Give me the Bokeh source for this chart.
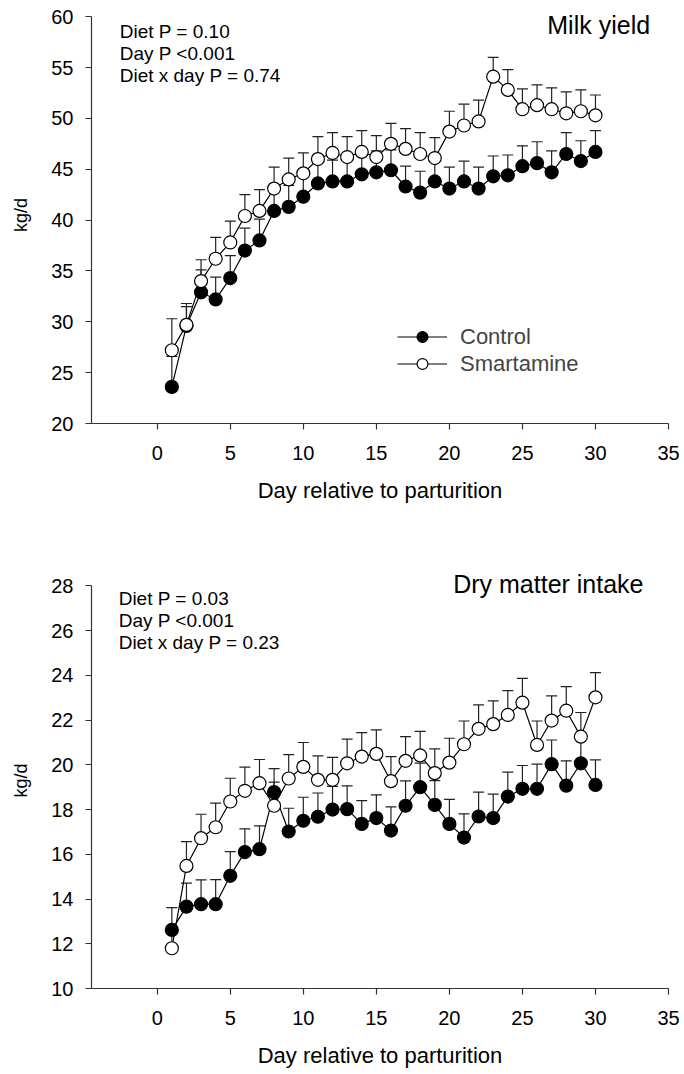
from bokeh.plotting import figure
from bokeh.models import (Range1d, Whisker, ColumnDataSource, Label, Legend,
                          LegendItem, FixedTicker, TeeHead)
from bokeh.layouts import column
from bokeh.embed import file_html
from bokeh.resources import INLINE

FONT = "Liberation Sans"

days = list(range(1, 31))
x_ticks = [0, 5, 10, 15, 20, 25, 30, 35]

# Milk yield (kg/d)
milk_control = [23.6, 29.6, 32.9, 32.2, 34.3, 37.0, 38.0, 40.9, 41.3, 42.3,
                43.6, 43.8, 43.8, 44.5, 44.7, 44.9, 43.3, 42.7, 43.8, 43.1,
                43.8, 43.1, 44.3, 44.4, 45.3, 45.6, 44.7, 46.5, 45.8, 46.7]
milk_control_se = [3.0, 1.9, 2.2, 2.2, 2.2, 2.2, 2.1, 2.1, 2.1, 2.1,
                   2.1, 2.1, 2.1, 2.1, 2.1, 2.0, 2.0, 2.1, 2.0, 2.1,
                   2.0, 2.1, 2.0, 2.0, 2.0, 2.1, 2.1, 2.1, 2.0, 2.1]
milk_smart = [27.2, 29.7, 34.0, 36.2, 37.8, 40.4, 40.9, 43.1, 44.0, 44.6,
              46.0, 46.6, 46.2, 46.7, 46.2, 47.5, 47.0, 46.5, 46.1, 48.7,
              49.3, 49.7, 54.1, 52.8, 50.9, 51.3, 50.9, 50.5, 50.7, 50.3]
milk_smart_se = [3.1, 2.1, 2.1, 2.1, 2.1, 2.1, 2.1, 2.1, 2.1, 2.0,
                 2.2, 2.0, 2.0, 2.1, 2.1, 2.0, 2.0, 2.1, 2.0, 2.0,
                 2.1, 2.1, 1.9, 2.0, 2.0, 2.0, 2.1, 2.1, 2.1, 2.0]
milk_y_ticks = [20, 25, 30, 35, 40, 45, 50, 55, 60]
milk_stats = ["Diet P = 0.10", "Day P <0.001", "Diet x day P = 0.74"]

# Dry matter intake (kg/d)
dmi_control = [12.62, 13.66, 13.77, 13.77, 15.04, 16.10, 16.23, 18.78, 17.02, 17.50,
               17.68, 18.00, 18.02, 17.36, 17.62, 17.06, 18.17, 19.00, 18.21, 17.36,
               16.75, 17.69, 17.62, 18.58, 18.93, 18.93, 20.03, 19.07, 20.07, 19.10]
dmi_control_se = [1.00, 1.05, 1.09, 1.10, 1.08, 1.04, 1.04, 1.05, 1.04, 1.05,
                  1.06, 1.04, 1.04, 1.04, 1.04, 1.06, 1.11, 1.08, 1.08, 1.10,
                  1.06, 1.09, 1.07, 1.09, 1.04, 1.10, 1.08, 1.11, 1.08, 1.12]
dmi_smart = [11.80, 15.48, 16.72, 17.21, 18.36, 18.84, 19.18, 18.17, 19.39, 19.91,
             19.33, 19.33, 20.07, 20.37, 20.49, 19.27, 20.18, 20.42, 19.63, 20.10,
             20.92, 21.61, 21.82, 22.23, 22.78, 20.89, 21.98, 22.42, 21.26, 23.02]
dmi_smart_se = [1.00, 1.09, 1.07, 1.08, 1.04, 1.06, 1.06, 1.06, 1.07, 1.09,
                1.07, 1.00, 1.08, 1.07, 1.07, 1.10, 1.08, 1.08, 1.08, 1.09,
                1.04, 1.07, 1.04, 1.09, 1.09, 1.07, 1.10, 1.08, 1.08, 1.10]
dmi_y_ticks = [10, 12, 14, 16, 18, 20, 22, 24, 26, 28]
dmi_stats = ["Diet P = 0.03", "Day P <0.001", "Diet x day P = 0.23"]

series_names = ["Control", "Smartamine"]


def make_panel(ctrl, ctrl_se, smart, smart_se, yticks, y_end, title, stats,
               title_pos, stats_pos, height, b_top, b_bottom, legend=False):
    p = figure(width=684, height=height,
               x_range=Range1d(-4.5, 35), y_range=Range1d(yticks[0], y_end),
               output_backend="svg", toolbar_location=None,
               min_border_left=91, min_border_right=16,
               min_border_top=b_top, min_border_bottom=b_bottom)
    p.xgrid.visible = False
    p.ygrid.visible = False
    p.outline_line_color = None
    p.background_fill_color = "white"

    for ax in (p.xaxis[0], p.yaxis[0]):
        ax.axis_line_color = "#333333"
        ax.axis_line_width = 1.2
        ax.major_tick_line_color = "#333333"
        ax.major_tick_line_width = 1.2
        ax.minor_tick_line_color = None
        ax.major_tick_in = 0
        ax.major_tick_out = 6
        ax.major_label_text_font = FONT
        ax.major_label_text_font_size = "20px"
        ax.major_label_text_color = "black"
        ax.axis_label_text_font = FONT
        ax.axis_label_text_font_style = "normal"
        ax.axis_label_text_color = "black"
    p.xaxis.major_label_standoff = 16
    p.yaxis.major_label_standoff = 12
    p.xaxis.ticker = FixedTicker(ticks=x_ticks)
    p.yaxis.ticker = FixedTicker(ticks=yticks)
    p.yaxis.bounds = (yticks[0], yticks[-1])
    p.xaxis.axis_label = "Day relative to parturition"
    p.xaxis.axis_label_text_font_size = "22px"
    p.xaxis.axis_label_standoff = 15
    p.yaxis.axis_label = "kg/d"
    p.yaxis.axis_label_text_font_size = "18px"
    p.yaxis.axis_label_standoff = 17

    srcs = []
    for vals, se in ((ctrl, ctrl_se), (smart, smart_se)):
        srcs.append(ColumnDataSource(dict(
            x=days, y=vals, yu=[v + s for v, s in zip(vals, se)])))

    for s in srcs:
        w = Whisker(source=s, base="x", lower="y", upper="yu",
                    line_color="#222222", line_width=1.2,
                    upper_head=TeeHead(size=11, line_color="#222222", line_width=1.2),
                    lower_head=None)
        p.add_layout(w)

    items = []
    for s, fill, name in zip(srcs, ("black", "white"), series_names):
        lr = p.line("x", "y", source=s, line_color="black", line_width=1.2)
        cr = p.scatter("x", "y", source=s, marker="circle", size=13,
                       fill_color=fill, line_color="black", line_width=1.2)
        items.append(LegendItem(label=name, renderers=[lr, cr]))

    tx, ty = title_pos
    p.add_layout(Label(x=tx, y=ty, text=title, text_font=FONT,
                       text_font_size="25px", text_align="right",
                       text_baseline="middle", text_color="black"))
    sx, sys = stats_pos
    for t, yy in zip(stats, sys):
        p.add_layout(Label(x=sx, y=yy, text=t, text_font=FONT,
                           text_font_size="19px", text_align="left",
                           text_baseline="middle", text_color="black"))

    if legend:
        lg = Legend(items=items, location=(306, 46), orientation="vertical",
                    glyph_width=50, glyph_height=27, label_height=27,
                    spacing=0, padding=0, margin=0, label_standoff=13,
                    label_text_font=FONT, label_text_font_size="22px",
                    border_line_color=None, background_fill_alpha=0)
        p.add_layout(lg, "center")
    return p


p1 = make_panel(milk_control, milk_control_se, milk_smart, milk_smart_se,
                milk_y_ticks, 61.0, "Milk yield", milk_stats,
                (33.74, 59.17), (-2.57, [58.56, 56.42, 54.26]),
                height=508, b_top=6, b_bottom=85, legend=True)
p2 = make_panel(dmi_control, dmi_control_se, dmi_smart, dmi_smart_se,
                dmi_y_ticks, 28.6, "Dry matter intake", dmi_stats,
                (33.29, 28.08), (-2.64, [27.42, 26.45, 25.47]),
                height=566, b_top=64, b_bottom=86)

layout = column(p1, p2, spacing=0)
open("out.html", "w").write(file_html(layout, INLINE))
